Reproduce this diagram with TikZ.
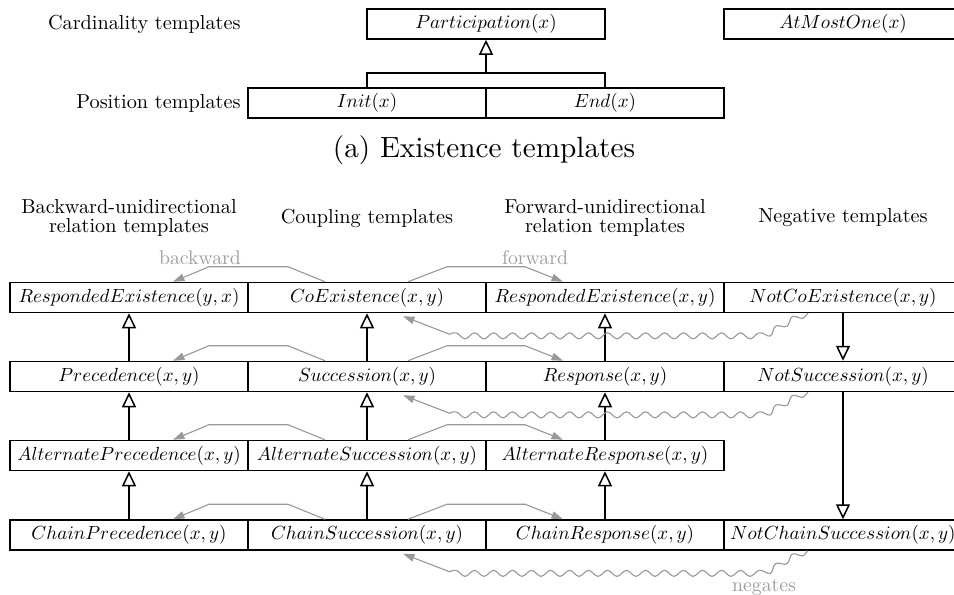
\documentclass[tikz,border=0pt]{standalone}
\usetikzlibrary{arrows.meta,decorations.pathmorphing}
\definecolor{relgray}{gray}{0.6}
\definecolor{lblgray}{gray}{0.62}
% template names are set in 10pt math italic and shrunk
\newcommand\tpl[1]{\scalebox{0.76}{$#1$}}
\begin{document}
\begin{tikzpicture}[x=0.4pt,y=-0.4pt,
  tmpl/.style={draw, line width=0.6pt, minimum width=95.2pt, minimum height=12pt,
    inner sep=0pt},
  grp/.style={font=\fontsize{10}{9.15}\selectfont, align=center, inner sep=0pt,
    scale=0.81, transform shape},
  spec/.style={draw, line width=0.6pt, -{Triangle[open, length=6pt, width=5.6pt, fill=white]}},
  plain/.style={draw, line width=0.6pt},
  rel/.style={draw=relgray, line width=0.45pt, -{Triangle[length=4.6pt, width=3pt]}},
  relabel/.style={text=lblgray, font=\fontsize{10}{12}\selectfont, inner sep=0pt,
    scale=0.79, transform shape},
  neg/.style={draw=relgray, line width=0.45pt, -{Triangle[length=4.6pt, width=3pt]},
    decorate, decoration={snake, segment length=7.6pt, amplitude=1.2pt, post length=19.4pt}},
]
\useasboundingbox (0,0) rectangle (954,594);

% ---------------- existence templates ----------------
\node[grp, anchor=east] (cardlbl) at (241,24) {Cardinality templates};
\node[grp, anchor=east] (poslbl) at (241,103) {Position templates};

\node[tmpl] (part) at (486,24) {\tpl{Participation(x)}};
\node[tmpl] (atmost) at (843,24) {\tpl{AtMostOne(x)}};
\node[tmpl] (init) at (367,103) {\tpl{Init(x)}};
\node[tmpl] (end) at (605,103) {\tpl{End(x)}};

\coordinate (ejoin) at (486,73);
\draw[plain] (init.north) |- (end.north |- ejoin) -- (end.north);
\draw[spec] (ejoin) -- (part.south);

\node[font=\fontsize{10}{12}\selectfont, scale=1.17, transform shape] (capa) at (484,150)
  {(a) Existence templates};

% ---------------- relation templates ----------------
\node[grp] (hback) at (129,218) {Backward-unidirectional\\relation templates};
\node[grp] (hcoup) at (367,218) {Coupling templates};
\node[grp] (hfwd) at (605,218) {Forward-unidirectional\\relation templates};
\node[grp] (hneg) at (843,218) {Negative templates};

% row 1
\node[tmpl] (respyx) at (129,297.5) {\tpl{RespondedExistence(y,x)}};
\node[tmpl] (coex) at (367,297.5) {\tpl{CoExistence(x,y)}};
\node[tmpl] (respxy) at (605,297.5) {\tpl{RespondedExistence(x,y)}};
\node[tmpl] (notcoex) at (843,297.5) {\tpl{NotCoExistence(x,y)}};
% row 2
\node[tmpl] (prec) at (129,376.5) {\tpl{Precedence(x,y)}};
\node[tmpl] (succ) at (367,376.5) {\tpl{Succession(x,y)}};
\node[tmpl] (resp) at (605,376.5) {\tpl{Response(x,y)}};
\node[tmpl] (notsucc) at (843,376.5) {\tpl{NotSuccession(x,y)}};
% row 3
\node[tmpl] (aprec) at (129,455.5) {\tpl{AlternatePrecedence(x,y)}};
\node[tmpl] (asucc) at (367,455.5) {\tpl{AlternateSuccession(x,y)}};
\node[tmpl] (aresp) at (605,455.5) {\tpl{AlternateResponse(x,y)}};
% row 4
\node[tmpl] (cprec) at (129,535) {\tpl{ChainPrecedence(x,y)}};
\node[tmpl] (csucc) at (367,535) {\tpl{ChainSuccession(x,y)}};
\node[tmpl] (cresp) at (605,535) {\tpl{ChainResponse(x,y)}};
\node[tmpl] (notcsucc) at (843,535) {\tpl{NotChainSuccession(x,y)}};

% subsumption
\draw[spec] (prec.north) -- (respyx.south);
\draw[spec] (aprec.north) -- (prec.south);
\draw[spec] (cprec.north) -- (aprec.south);
\draw[spec] (succ.north) -- (coex.south);
\draw[spec] (asucc.north) -- (succ.south);
\draw[spec] (csucc.north) -- (asucc.south);
\draw[spec] (resp.north) -- (respxy.south);
\draw[spec] (aresp.north) -- (resp.south);
\draw[spec] (cresp.north) -- (aresp.south);
\draw[spec] (notcoex.south) -- (notsucc.north);
\draw[spec] (notsucc.south) -- (notcsucc.north);

% backward / forward components of each coupling template
\foreach \c/\b/\f in {coex/respyx/respxy, succ/prec/resp, asucc/aprec/aresp, csucc/cprec/cresp}{
  \draw[rel] ([xshift=-16.8pt]\c.north) -- ++(-37,-15)
    -- ([xshift=32pt,yshift=6pt]\b.north) -- ([xshift=17.6pt]\b.north);
  \draw[rel] ([xshift=16.4pt]\c.north) -- ++(39,-15)
    -- ([xshift=-32pt,yshift=6pt]\f.north) -- ([xshift=-16.8pt]\f.north);
}
\node[relabel] (lback) at (200,258) {backward};
\node[relabel] (lfwd) at (535,258) {forward};

% negation links
\foreach \n/\c in {notcoex/coex, notsucc/succ, notcsucc/csucc}{
  \draw[neg] ([xshift=-14pt]\n.south) .. controls +(-24,9) and +(16,0) .. ++(-47,21)
    -- ([xshift=32.4pt,yshift=-8.4pt]\c.south) -- ([xshift=14.4pt,yshift=-1.2pt]\c.south);
}
\node[relabel] (lneg) at (764,587) {negates};
\end{tikzpicture}
\end{document}
